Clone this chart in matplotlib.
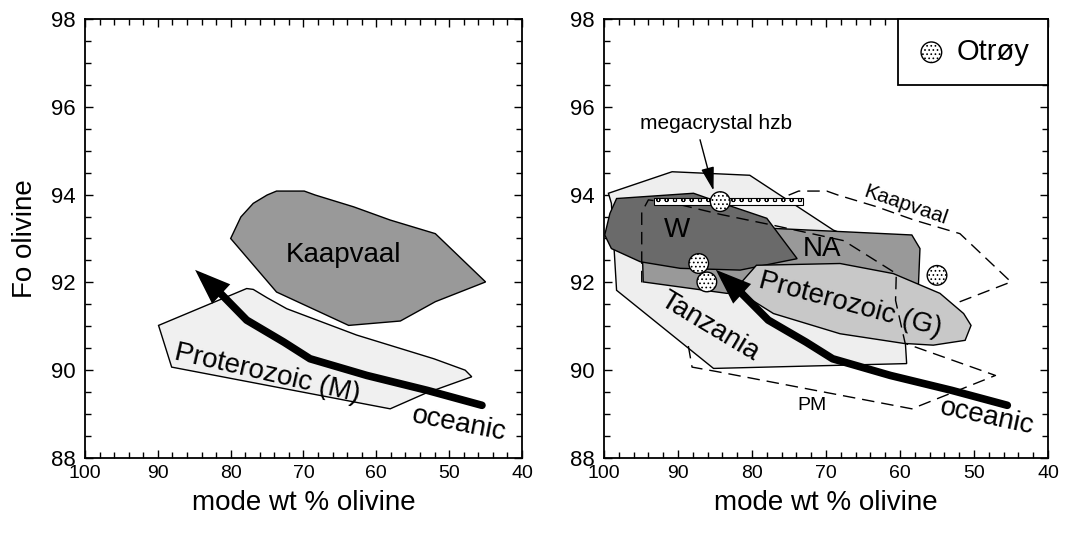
import numpy as np
import matplotlib.pyplot as plt
from matplotlib.ticker import MultipleLocator

plt.rcParams['font.family'] = ['Liberation Sans', 'DejaVu Sans']
plt.rcParams['hatch.linewidth'] = 0.7

# polygons (x = mode wt % olivine, y = Fo olivine)
kaap_x = [80.0, 78.6, 76.9, 75.0, 73.7, 69.9, 68.4, 63.1, 58.1, 51.9, 45.0, 51.9, 56.7, 63.8, 73.7]
kaap_y = [93.0, 93.49, 93.8, 93.99, 94.08, 94.08, 93.99, 93.72, 93.42, 93.11, 92.01, 91.56, 91.12, 91.02, 91.78]

protm_x = [89.9, 77.8, 76.9, 75.0, 72.3, 62.7, 52.1, 47.8, 46.9, 53.3, 58.1, 88.1]
protm_y = [91.02, 91.86, 91.84, 91.65, 91.40, 90.80, 90.26, 90.0, 89.85, 89.47, 89.12, 90.07]

ocean_x = [45.5, 53.0, 61.3, 69.1, 72.7, 77.8, 81.4, 85.3]
ocean_y = [89.2, 89.54, 89.88, 90.26, 90.64, 91.14, 91.75, 92.35]

tanz_x = [99.4, 90.8, 80.3, 69.0, 60.0, 59.1, 85.2, 98.3, 99.0]
tanz_y = [94.03, 94.52, 94.44, 93.19, 92.6, 90.15, 90.04, 91.82, 93.8]

na_x = [94.9, 77.1, 58.4, 57.3, 57.5, 83.4, 94.7]
na_y = [93.19, 93.23, 93.08, 92.77, 91.97, 91.75, 92.01]

w_x = [98.3, 87.9, 85.2, 78.0, 73.9, 81.6, 89.7, 95.1, 99.0, 99.9, 99.2]
w_y = [93.91, 94.03, 93.87, 93.46, 92.54, 92.28, 92.32, 92.47, 92.77, 93.08, 93.57]

protg_x = [81.6, 79.4, 68.1, 60.9, 54.6, 51.4, 50.4, 51.2, 55.5, 59.5, 68.1, 77.1, 80.7]
protg_y = [91.97, 92.39, 92.43, 92.20, 91.75, 91.29, 91.02, 90.68, 90.57, 90.61, 90.83, 91.29, 91.67]

pm_x = [88.6, 88.1, 84.8, 58.4, 47.1, 59.3, 60.6, 60.5, 67.6, 77.1, 84.3, 90.0, 94.0, 94.9, 94.9]
pm_y = [90.55, 90.07, 89.97, 89.12, 89.88, 90.61, 91.59, 92.2, 92.95, 93.3, 93.55, 93.78, 93.88, 93.6, 92.0]

# Otroy samples and megacrystal harzburgite range
otroy_x = [84.3, 87.2, 86.1, 55.0]
otroy_y = [93.84, 92.43, 92.01, 92.16]
mega_x = [93.3, 73.1]
mega_y = 93.84

fig = plt.figure(figsize=(10.73, 5.39), dpi=100)
ax1 = fig.add_axes([0.0792, 0.1503, 0.4073, 0.8145])
ax2 = fig.add_axes([0.5629, 0.1503, 0.4138, 0.8145])

for ax in (ax1, ax2):
    ax.set_xlim(100, 40)
    ax.set_ylim(88, 98)
    ax.xaxis.set_major_locator(MultipleLocator(10))
    ax.xaxis.set_minor_locator(MultipleLocator(2))
    ax.yaxis.set_major_locator(MultipleLocator(2))
    ax.yaxis.set_minor_locator(MultipleLocator(0.5))
    ax.tick_params(which='both', direction='in', top=True, right=True, width=1)
    ax.tick_params(which='major', length=5.5)
    ax.tick_params(which='minor', length=4)
    ax.tick_params(axis='x', labelsize=14, pad=5)
    ax.tick_params(axis='y', labelsize=16, pad=7)
    for s in ax.spines.values():
        s.set_linewidth(1.3)
    ax.set_xlabel('mode wt % olivine', fontsize=20, labelpad=6)

    # oceanic trend arrow
    ax.plot(ocean_x[:-1], ocean_y[:-1], color='k', lw=5.5, solid_capstyle='round',
            solid_joinstyle='round', zorder=8)
    ax.annotate('', xy=(ocean_x[-1], ocean_y[-1]), xytext=(ocean_x[-2], ocean_y[-2]),
                arrowprops=dict(arrowstyle='-|>,head_length=0.75,head_width=0.28',
                                mutation_scale=20, lw=5.5, color='k',
                                joinstyle='miter', capstyle='butt',
                                shrinkA=0, shrinkB=3), zorder=8)

ax1.set_ylabel('Fo olivine', fontsize=20, labelpad=9)

# left panel
ax1.fill(kaap_x, kaap_y, facecolor='#999999', edgecolor='k', lw=1, zorder=2)
ax1.fill(protm_x, protm_y, facecolor='#f0f0f0', edgecolor='k', lw=1, zorder=2)
ax1.text(64.5, 92.62, 'Kaapvaal', fontsize=20, ha='center', va='center', zorder=10)
ax1.text(75.0, 89.92, 'Proterozoic (M)', fontsize=20, ha='center', va='center',
         rotation=-13, zorder=10)
ax1.text(48.6, 88.78, 'oceanic', fontsize=20, ha='center', va='center',
         rotation=-11, zorder=10)

# right panel
dash = (0, (9, 5))
ax2.fill(kaap_x, kaap_y, facecolor='none', edgecolor='k', lw=1, ls=dash, zorder=1)
ax2.fill(tanz_x, tanz_y, facecolor='#eeeeee', edgecolor='k', lw=1, zorder=2)
ax2.fill(na_x, na_y, facecolor='#999999', edgecolor='k', lw=1, zorder=3)
ax2.fill(w_x, w_y, facecolor='#6a6a6a', edgecolor='k', lw=1, zorder=4)
ax2.fill(protg_x, protg_y, facecolor='#c8c8c8', edgecolor='k', lw=1, zorder=5)
ax2.plot(pm_x, pm_y, color='k', lw=1, ls=dash, zorder=6)

ax2.barh(mega_y, mega_x[0] - mega_x[1], left=mega_x[1], height=0.15,
         facecolor='white', edgecolor='k', lw=0.8, hatch='oo', zorder=7)
ax2.scatter(otroy_x, otroy_y, s=200, facecolor='white', edgecolor='k', lw=1,
            hatch='....', zorder=9, label='Otrøy')

ax2.annotate('megacrystal hzb', xy=(85.2, 94.09), xytext=(84.8, 95.62),
             fontsize=15, ha='center', va='center',
             arrowprops=dict(arrowstyle='-|>,head_length=0.9,head_width=0.25',
                             mutation_scale=16, color='k', lw=1,
                             relpos=(0.38, 0), shrinkA=3, shrinkB=0), zorder=10)

ax2.text(90.2, 93.19, 'W', fontsize=20, ha='center', va='center', zorder=10)
ax2.text(70.6, 92.77, 'NA', fontsize=20, ha='center', va='center', zorder=10)
ax2.text(59.3, 93.76, 'Kaapvaal', fontsize=15, ha='center', va='center',
         rotation=-19, zorder=10)
ax2.text(66.7, 91.48, 'Proterozoic (G)', fontsize=20, ha='center', va='center',
         rotation=-15, zorder=10)
ax2.text(85.7, 91.0, 'Tanzania', fontsize=20, ha='center', va='center',
         rotation=-31, zorder=10)
ax2.text(71.9, 89.2, 'PM', fontsize=14, ha='center', va='center', zorder=10)
ax2.text(48.2, 88.93, 'oceanic', fontsize=20, ha='center', va='center',
         rotation=-12, zorder=10)

leg = ax2.legend(loc='upper right', borderaxespad=0, fontsize=21, fancybox=False,
                 edgecolor='k', framealpha=1, borderpad=0.65, handlelength=1.0,
                 handletextpad=0.35, scatterpoints=1, markerscale=1.05)
leg.get_frame().set_linewidth(1.3)
leg.set_zorder(11)

fig.savefig('out.png', dpi=100)
